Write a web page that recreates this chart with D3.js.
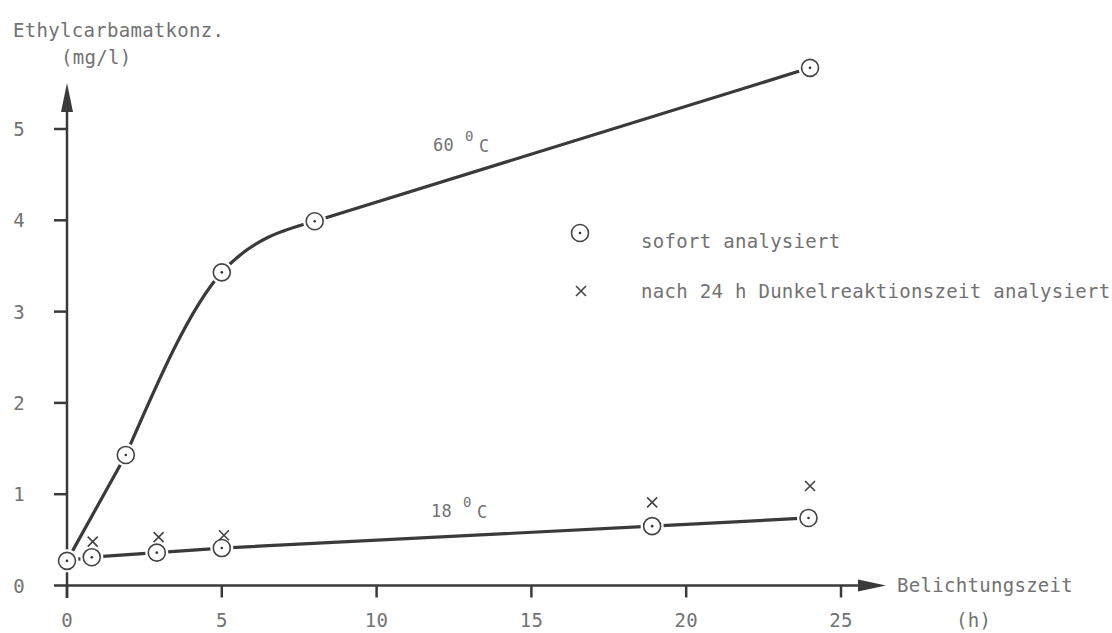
<!DOCTYPE html>
<html><head><meta charset="utf-8">
<script src="https://cdn.jsdelivr.net/npm/d3@7"></script>
<style>
body{margin:0;background:#fff;}
text{font-family:"DejaVu Sans Mono",monospace;fill:#727272;letter-spacing:0.3px;}
</style></head>
<body><svg id="c" width="1112" height="633"></svg>
<script>
const xTicks = [0, 5, 10, 15, 20, 25];
const yTicks = [0, 1, 2, 3, 4, 5];
const t60 = [0, 1.9, 5.0, 8.0, 24.0];
const v60 = [0.27, 1.43, 3.43, 3.99, 5.67];
const t18 = [0, 0.8, 2.9, 5.0, 18.9, 23.95];
const v18 = [0.27, 0.31, 0.36, 0.41, 0.65, 0.74];
const tCross = [0.83, 2.96, 5.07, 18.9, 24.0];
const vCross = [0.48, 0.53, 0.55, 0.91, 1.09];
const xTitle = ["Belichtungszeit", "(h)"];
const yTitle = ["Ethylcarbamatkonz.", "(mg/l)"];
const legendLabels = ["sofort analysiert", "nach 24 h Dunkelreaktionszeit analysiert"];

const svg = d3.select("#c");
const x = d3.scaleLinear().domain([0, 25]).range([67, 841]);
const y = d3.scaleLinear().domain([0, 5]).range([585.5, 129]);
const ink = "#3a3a3a";
const FS = 19;

// axes lines
svg.append("line").attr("x1", x(0)).attr("x2", 866).attr("y1", y(0)).attr("y2", y(0))
  .attr("stroke", ink).attr("stroke-width", 2.5);
svg.append("line").attr("x1", x(0)).attr("x2", x(0)).attr("y1", 598).attr("y2", 105)
  .attr("stroke", ink).attr("stroke-width", 2.5);
// arrowheads
svg.append("path").attr("d", `M${x(0)},83 L${x(0)-6},112 L${x(0)+6},112 Z`).attr("fill", ink);
svg.append("path").attr("d", `M886,${y(0)} L858,${y(0)-6} L858,${y(0)+6} Z`).attr("fill", ink);

// ticks
xTicks.forEach(t => {
  svg.append("line").attr("x1", x(t)).attr("x2", x(t)).attr("y1", y(0)).attr("y2", y(0) + 12)
    .attr("stroke", ink).attr("stroke-width", 2.5);
  svg.append("text").attr("x", x(t)).attr("y", 627).attr("text-anchor", "middle")
    .attr("font-size", FS).text(t);
});
yTicks.forEach(t => {
  svg.append("line").attr("x1", x(0) - 13).attr("x2", x(0)).attr("y1", y(t)).attr("y2", y(t))
    .attr("stroke", ink).attr("stroke-width", 2.5);
  svg.append("text").attr("x", 19).attr("y", y(t) + 7).attr("text-anchor", "middle")
    .attr("font-size", FS).text(t);
});

// titles
svg.append("text").attr("x", 13).attr("y", 37).attr("font-size", FS).text(yTitle[0]);
svg.append("text").attr("x", 61).attr("y", 64).attr("font-size", FS).text(yTitle[1]);
svg.append("text").attr("x", 897).attr("y", 592).attr("font-size", FS).text(xTitle[0]);
svg.append("text").attr("x", 956).attr("y", 627).attr("font-size", FS).text(xTitle[1]);

// curves
const d60 = t60.map((t, i) => [t, v60[i]]);
const d18 = t18.map((t, i) => [t, v18[i]]);
const dc = tCross.map((t, i) => [t, vCross[i]]);
const lin = d3.line().x(d => x(d[0])).y(d => y(d[1]));
const smooth = d3.line().x(d => x(d[0])).y(d => y(d[1])).curve(d3.curveMonotoneX);
// 60 °C: straight start, smooth bend through the middle points, straight end
[lin(d60.slice(0, 2)), smooth(d60.slice(1, 4)), lin(d60.slice(3))].forEach(p =>
  svg.append("path").attr("d", p).attr("fill", "none").attr("stroke", ink)
    .attr("stroke-width", 3.2).attr("stroke-linecap", "round"));
svg.append("path").attr("d", lin(d18)).attr("fill", "none").attr("stroke", ink).attr("stroke-width", 3.2);

// markers
function circ(cx, cy) {
  svg.append("circle").attr("cx", cx).attr("cy", cy).attr("r", 11.5).attr("fill", "#fff");
  svg.append("circle").attr("cx", cx).attr("cy", cy).attr("r", 8.5).attr("fill", "#fff")
    .attr("stroke", "#444").attr("stroke-width", 1.6);
  svg.append("circle").attr("cx", cx).attr("cy", cy).attr("r", 1.3).attr("fill", "#333");
}
function cross(cx, cy) {
  const s = 5;
  svg.append("path").attr("d", `M${cx-s},${cy-s}L${cx+s},${cy+s}M${cx-s},${cy+s}L${cx+s},${cy-s}`)
    .attr("stroke", "#444").attr("stroke-width", 1.6).attr("fill", "none");
}
[...d60, ...d18.slice(1)].forEach(d => circ(x(d[0]), y(d[1])));
dc.forEach(d => cross(x(d[0]), y(d[1])));

// curve labels
function tempLabel(px, py, num) {
  svg.append("text").attr("x", px).attr("y", py).attr("font-size", 17).text(num);
  svg.append("text").attr("x", px + 32).attr("y", py - 10).attr("font-size", 14).text("0");
  svg.append("text").attr("x", px + 46).attr("y", py + 1).attr("font-size", 17).text("C");
}
tempLabel(433, 151, "60");
tempLabel(431, 517, "18");

// legend
circ(580, 233);
svg.append("text").attr("x", 641).attr("y", 248).attr("font-size", FS).text(legendLabels[0]);
cross(581, 291);
svg.append("text").attr("x", 641).attr("y", 298).attr("font-size", FS).text(legendLabels[1]);
</script></body></html>
